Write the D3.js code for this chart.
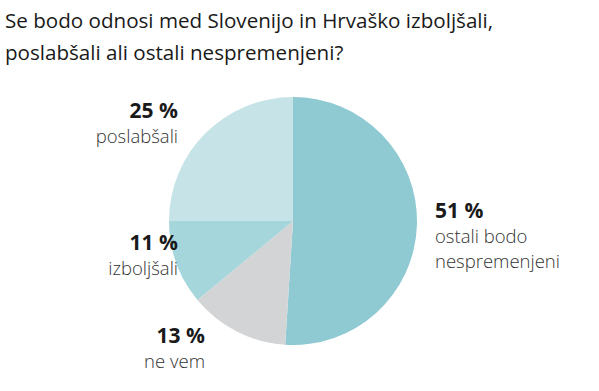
<!DOCTYPE html>
<html>
<head>
<meta charset="utf-8">
<script src="https://cdn.jsdelivr.net/npm/d3@7"></script>
<style>
  html, body { margin: 0; padding: 0; background: #fff; }
  svg { display: block; }
  text { font-family: "Open Sans", "Noto Sans", sans-serif; fill: #222; }
</style>
</head>
<body>
<svg id="chart" width="599" height="391"></svg>
<script>
const titleLines = ["Se bodo odnosi med Slovenijo in Hrvaško izboljšali,", "poslabšali ali ostali nespremenjeni?"];
const categories = ["ostali bodo nespremenjeni", "ne vem", "izboljšali", "poslabšali"];
const labelLines = [["ostali bodo", "nespremenjeni"], ["ne vem"], ["izboljšali"], ["poslabšali"]];
const values = [51, 13, 11, 25];
const colors = ["#8fcad3", "#d3d4d6", "#a5d6db", "#c6e3e8"];

const svg = d3.select("#chart");
const cx = 293, cy = 221, R = 124;

// title
const title = svg.append("text")
  .style("font-size", "20.6px").style("fill", "#1a1a1a");
titleLines.forEach((t, i) => {
  title.append("tspan").attr("x", 5).attr("y", 28 + i * 32).text(t);
});

const pie = d3.pie().sort(null).value(d => d)(values);
const arc = d3.arc().innerRadius(0).outerRadius(R);
const g = svg.append("g").attr("transform", `translate(${cx},${cy})`);
g.selectAll("path").data(pie).join("path")
  .attr("d", arc)
  .attr("fill", (d, i) => colors[i]);

// label anchor positions (layout)
const labelPos = [
  {x: 435, y: 218, anchor: "start"},
  {x: 205, y: 343, anchor: "end"},
  {x: 178, y: 250, anchor: "end"},
  {x: 178, y: 118, anchor: "end"}
];

values.forEach((v, i) => {
  const p = labelPos[i];
  const t = svg.append("text").attr("text-anchor", p.anchor);
  t.append("tspan").attr("x", p.x).attr("y", p.y)
    .style("font-size", "21px").style("font-weight", "700").style("fill", "#1a1a1a")
    .text(v + " %");
  labelLines[i].forEach((line, j) => {
    t.append("tspan").attr("x", p.x).attr("y", p.y + 25 + j * 25)
      .style("font-size", "18.5px").style("font-weight", "300").style("fill", "#333")
      .text(line);
  });
});
</script>
</body>
</html>
